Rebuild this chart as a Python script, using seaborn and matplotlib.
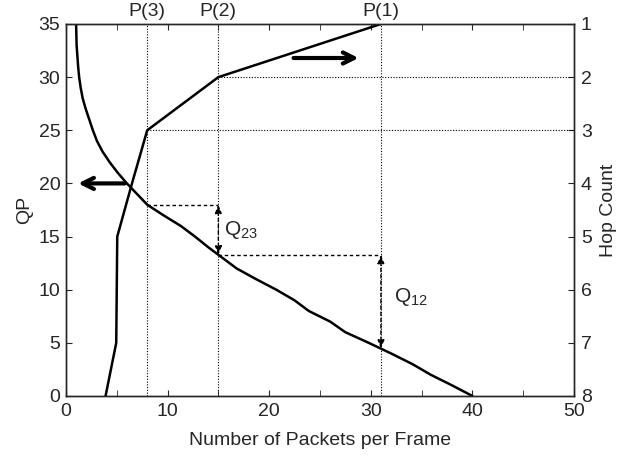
import numpy as np
import pandas as pd
import matplotlib
matplotlib.use("Agg")
import matplotlib.pyplot as plt
import seaborn as sns

# QP vs number of packets per frame (left axis)
qp_values = [35, 33, 31, 30, 29, 28, 27, 26, 25, 24, 23, 22, 21, 20, 19, 18,
             17, 16, 15, 14, 13, 12, 11, 10, 9, 8, 7, 6, 5, 4, 3, 2, 1, 0]
qp_packets = [1.0, 1.05, 1.2, 1.3, 1.45, 1.65, 1.95, 2.3, 2.65, 3.05, 3.6, 4.3, 5.1, 6.0, 7.0, 8.0,
              9.6, 11.3, 12.7, 14.0, 15.4, 16.8, 18.7, 20.7, 22.5, 23.9, 26.0, 27.5, 29.8, 32.0, 34.1, 35.9, 38.0, 40.0]

# hop count vs number of packets per frame (right axis)
hop_count = [1, 2, 3, 4, 5, 6, 7, 8]
hop_packets = [31, 15, 8, 6.5, 5.05, 5.0, 4.95, 3.9]

# P(n): packets per frame for n hops
p_labels = ["P(1)", "P(2)", "P(3)"]
p_values = [31, 15, 8]

sns.set_style("ticks")
plt.rcParams['font.family'] = ['Liberation Sans Narrow', 'Liberation Sans', 'DejaVu Sans']
plt.rcParams['mathtext.default'] = 'regular'
fs = 14

qp_df = pd.DataFrame({"packets": qp_packets, "qp": qp_values})
hop_df = pd.DataFrame({"packets": hop_packets, "hop": hop_count})

fig = plt.figure(figsize=(6.28, 4.57), dpi=100)
ax = fig.add_axes([0.105, 0.1335, 0.809, 0.814])
ax2 = ax.twinx()

sns.lineplot(data=qp_df, x="packets", y="qp", orient="y", color="black", lw=1.8, ax=ax)
sns.lineplot(data=hop_df, x="packets", y="hop", orient="y", color="black", lw=1.8, ax=ax2)

ax.set_xlim(0, 50)
ax.set_ylim(0, 35)
ax2.set_ylim(8, 1)

# qp at the P points
qp_sorted = qp_df.sort_values("packets")
qp_at_p = np.interp(p_values, qp_sorted["packets"], qp_sorted["qp"])

dot = dict(color="black", lw=0.8, ls=(0, (1, 1.5)))
for lab, p in zip(p_labels, p_values):
    ax.axvline(p, **dot)
    ax.text(p, 35.4, lab, ha="center", va="bottom", fontsize=fs)

# hop levels for 2 and 3 hops on the right axis
for h, p in zip(hop_count[1:3], hop_packets[1:3]):
    ax2.plot([p, 50], [h, h], **dot)

dash = dict(color="black", lw=1.0, ls=(0, (2.5, 2)))
ax.plot([p_values[2], p_values[1]], [qp_at_p[2], qp_at_p[2]], **dash)
ax.plot([p_values[1], p_values[0]], [qp_at_p[1], qp_at_p[1]], **dash)

arr = dict(arrowstyle="<|-|>, head_length=0.5, head_width=0.2", color="black", lw=1.0,
           ls=(0, (2.5, 2)), shrinkA=0, shrinkB=0)
ax.annotate("", xy=(p_values[1], qp_at_p[2]), xytext=(p_values[1], qp_at_p[1]), arrowprops=arr)
ax.annotate("", xy=(p_values[0], qp_at_p[1]), xytext=(p_values[0], qp_at_p[0]), arrowprops=arr)
ax.text(15.6, 15.6, "Q$_{23}$", fontsize=fs + 1, va="center")
ax.text(32.3, 9.3, "Q$_{12}$", fontsize=fs + 1, va="center")

# direction arrows showing which axis each curve uses
big = dict(arrowstyle="->, head_length=0.8, head_width=0.4", color="black", lw=3,
           shrinkA=0, shrinkB=0)
ax.annotate("", xy=(1.2, 20), xytext=(5.8, 20), arrowprops=big)
ax.annotate("", xy=(28.8, 31.8), xytext=(22.4, 31.8), arrowprops=big)

ax.set_xticks(range(0, 51, 10))
ax.set_xticks(range(5, 50, 10), minor=True)
ax.set_yticks(range(0, 36, 5))
ax2.set_yticks(hop_count)
ax.tick_params(axis="x", which="both", direction="in", top=True, labelsize=fs, length=4, pad=5)
ax.tick_params(axis="y", direction="in", labelsize=fs, length=4, right=False, pad=4)
ax2.tick_params(axis="y", direction="in", labelsize=fs, length=4, pad=5)

ax.set_xlabel("Number of Packets per Frame", fontsize=fs, labelpad=9)
ax.set_ylabel("QP", fontsize=fs, labelpad=4)
ax2.set_ylabel("Hop Count", fontsize=fs, labelpad=6)

for a in (ax, ax2):
    for s in a.spines.values():
        s.set_linewidth(1.0)

fig.savefig("out.png", dpi=100)
